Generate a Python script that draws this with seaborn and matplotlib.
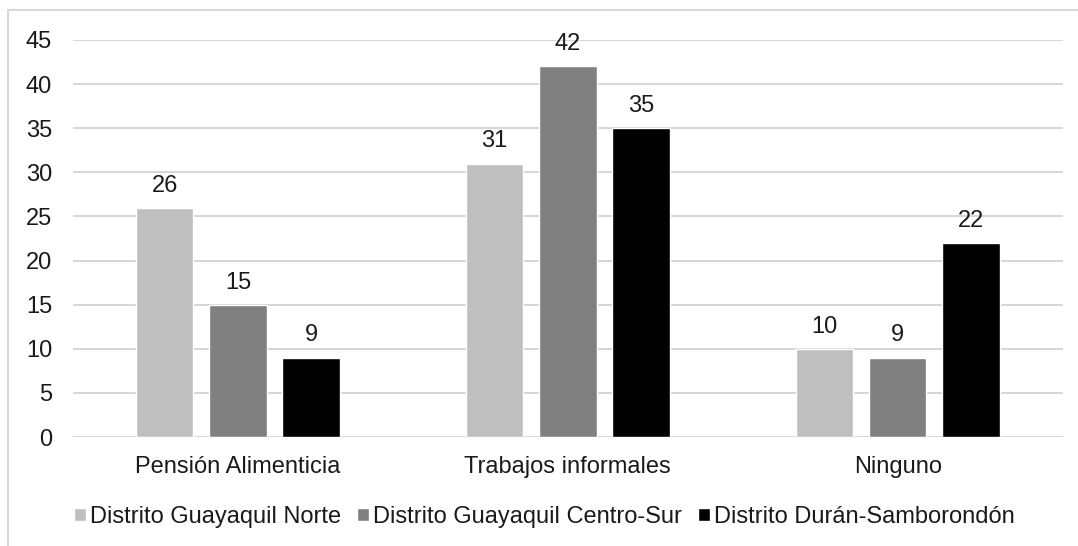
import matplotlib
matplotlib.use("Agg")
import matplotlib.pyplot as plt
from matplotlib.patches import Rectangle
import seaborn as sns
import pandas as pd

categories = ["Pensión Alimenticia", "Trabajos informales", "Ninguno"]
series_names = ["Distrito Guayaquil Norte", "Distrito Guayaquil Centro-Sur", "Distrito Durán-Samborondón"]
norte = [26, 31, 10]
centro_sur = [15, 42, 9]
duran = [9, 35, 22]
y_ticks = [0, 5, 10, 15, 20, 25, 30, 35, 40, 45]

colors = ["#BFBFBF", "#808080", "#000000"]

rows = []
for name, vals in zip(series_names, [norte, centro_sur, duran]):
    for c, v in zip(categories, vals):
        rows.append({"Categoría": c, "Serie": name, "Valor": v})
df = pd.DataFrame(rows)

sns.set_theme(style="white")
plt.rcParams["font.family"] = ["Liberation Sans", "DejaVu Sans"]
FS = 17

fig = plt.figure(figsize=(10.78, 5.46), dpi=100)
ax = fig.add_axes([73 / 1078, 1 - 437 / 546, 989.6 / 1078, 397 / 546])

sns.barplot(data=df, x="Categoría", y="Valor", hue="Serie", order=categories,
            hue_order=series_names, palette=colors, width=0.666, gap=0.215,
            saturation=1, ax=ax, legend=True)

ax.set_ylim(0, 45)
ax.set_yticks(y_ticks)
ax.set_xlim(-0.5, 2.5)
ax.set_xlabel("")
ax.set_ylabel("")
for s in ax.spines.values():
    s.set_visible(False)
ax.yaxis.grid(True, color="#D6D6D6", linewidth=1.4)
ax.set_axisbelow(True)
ax.tick_params(axis="y", length=0, pad=15, labelsize=FS, labelcolor="#1a1a1a")
ax.tick_params(axis="x", length=0, pad=13.5, labelsize=FS, labelcolor="#1a1a1a")

for cont in ax.containers:
    ax.bar_label(cont, fmt="%g", padding=8, fontsize=FS, color="#1a1a1a")

sns.move_legend(ax, "center", bbox_to_anchor=(0.505, 0.053), bbox_transform=fig.transFigure,
                ncol=3, frameon=False, title=None, fontsize=FS,
                handlelength=0.5, handleheight=0.5, handletextpad=0.18,
                columnspacing=0.68, labelcolor="#1a1a1a")

# chart area border (top and left edges visible)
fig.patches.append(Rectangle((7.5 / 1078, -0.05), 1.2, 1 - 10 / 546 + 0.05,
                             transform=fig.transFigure, fill=False,
                             edgecolor="#D9D9D9", linewidth=1.5, zorder=0))

fig.savefig("out.png", dpi=100)
